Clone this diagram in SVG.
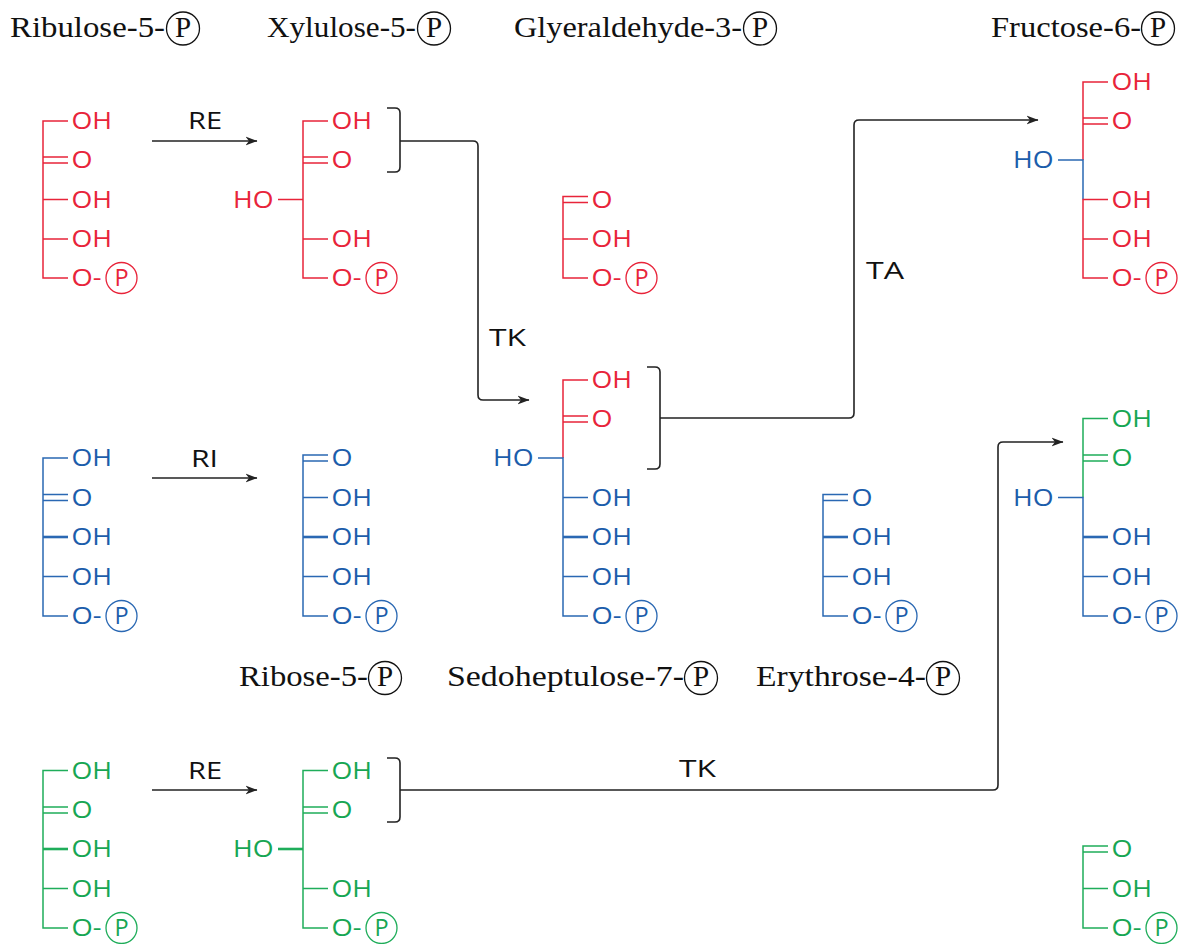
<svg xmlns="http://www.w3.org/2000/svg" width="1185" height="944" viewBox="0 0 1185 944">
<style>
.bg{fill:#fff}
.ln{fill:none;stroke-width:1.5}
.thk{stroke-width:2.6}
.sr{stroke:#e8243a}.sb{stroke:#2a68b3}.sg{stroke:#1fad5a}
.fr{fill:#e8243a}.fb{fill:#1c5dab}.fg{fill:#17a653}
.t{font-family:'Open Sans','Noto Sans',sans-serif;font-size:23.5px}
.cp{fill:none;stroke-width:1.3}
.ttl{font-family:'Liberation Serif','Times New Roman',serif;font-size:29px;fill:#111}
.tc{fill:none;stroke:#111;stroke-width:1.3}
.con{fill:none;stroke:#222;stroke-width:1.6}
.lab{font-family:'Open Sans','Noto Sans',sans-serif;font-size:23.5px;fill:#111}
</style>
<defs>
<marker id="ah" viewBox="0 0 12 10" refX="11.5" refY="5" markerWidth="12" markerHeight="10" markerUnits="userSpaceOnUse" orient="auto">
<path d="M0,0.6 L12,5 L0,9.4 L3.5,5 Z" fill="#222"/>
</marker>
</defs>
<rect class="bg" x="0" y="0" width="1185" height="944"/>

<g id="titles">
<text class="ttl" x="10" y="36.5" textLength="155" lengthAdjust="spacingAndGlyphs">Ribulose-5-</text>
<circle class="tc" cx="183" cy="28.5" r="16.5"/><text class="ttl" x="183" y="36.5" text-anchor="middle">P</text>
<text class="ttl" x="267" y="36.5" textLength="149" lengthAdjust="spacingAndGlyphs">Xylulose-5-</text>
<circle class="tc" cx="434" cy="28.5" r="16.5"/><text class="ttl" x="434" y="36.5" text-anchor="middle">P</text>
<text class="ttl" x="514" y="36.5" textLength="228" lengthAdjust="spacingAndGlyphs">Glyeraldehyde-3-</text>
<circle class="tc" cx="760" cy="28.5" r="16.5"/><text class="ttl" x="760" y="36.5" text-anchor="middle">P</text>
<text class="ttl" x="991" y="36.5" textLength="150" lengthAdjust="spacingAndGlyphs">Fructose-6-</text>
<circle class="tc" cx="1158" cy="28.5" r="16.5"/><text class="ttl" x="1158" y="36.5" text-anchor="middle">P</text>
<text class="ttl" x="239" y="686" textLength="129" lengthAdjust="spacingAndGlyphs">Ribose-5-</text>
<circle class="tc" cx="385" cy="678" r="16.5"/><text class="ttl" x="385" y="686" text-anchor="middle">P</text>
<text class="ttl" x="447" y="686" textLength="237" lengthAdjust="spacingAndGlyphs">Sedoheptulose-7-</text>
<circle class="tc" cx="701" cy="678" r="16.5"/><text class="ttl" x="701" y="686" text-anchor="middle">P</text>
<text class="ttl" x="756" y="686" textLength="170" lengthAdjust="spacingAndGlyphs">Erythrose-4-</text>
<circle class="tc" cx="943" cy="678" r="16.5"/><text class="ttl" x="943" y="686" text-anchor="middle">P</text>
</g>

<!-- Ribulose-5-P top (red) -->
<g id="ribulose-top" transform="translate(43,0)">
<path class="ln sr" d="M25,121 H0 V278 H25 M0,157 H25 M0,163 H25 M0,199.5 H25 M0,239 H25"/>
<text class="t fr" x="28.5" y="129.4" textLength="40.5" lengthAdjust="spacingAndGlyphs">OH</text>
<text class="t fr" x="28.5" y="168.4" textLength="21" lengthAdjust="spacingAndGlyphs">O</text>
<text class="t fr" x="28.5" y="207.9" textLength="40.5" lengthAdjust="spacingAndGlyphs">OH</text>
<text class="t fr" x="28.5" y="247.4" textLength="40.5" lengthAdjust="spacingAndGlyphs">OH</text>
<text class="t fr" x="28.5" y="286.4" textLength="30" lengthAdjust="spacingAndGlyphs">O-</text>
<circle class="cp sr" cx="78.5" cy="278" r="15.5"/><text class="t fr" x="78.5" y="286.4" text-anchor="middle">P</text>
</g>

<!-- Xylulose-5-P top (red) -->
<g id="xylulose-top" transform="translate(303,0)">
<path class="ln sr" d="M25,121 H0 V278 H25 M0,157 H25 M0,163 H25 M-25,199.5 H0 M0,239 H25"/>
<text class="t fr" x="28.5" y="129.4" textLength="40.5" lengthAdjust="spacingAndGlyphs">OH</text>
<text class="t fr" x="28.5" y="168.4" textLength="21" lengthAdjust="spacingAndGlyphs">O</text>
<text class="t fr" x="-29.5" y="207.9" text-anchor="end" textLength="40.5" lengthAdjust="spacingAndGlyphs">HO</text>
<text class="t fr" x="28.5" y="247.4" textLength="40.5" lengthAdjust="spacingAndGlyphs">OH</text>
<text class="t fr" x="28.5" y="286.4" textLength="30" lengthAdjust="spacingAndGlyphs">O-</text>
<circle class="cp sr" cx="78.5" cy="278" r="15.5"/><text class="t fr" x="78.5" y="286.4" text-anchor="middle">P</text>
</g>

<!-- Glyceraldehyde-3-P top (red) -->
<g id="gap-top" transform="translate(563,0)">
<path class="ln sr" d="M25,196.5 H0 V278 H25 M0,202.5 H25 M0,239 H25"/>
<text class="t fr" x="28.5" y="207.9" textLength="21" lengthAdjust="spacingAndGlyphs">O</text>
<text class="t fr" x="28.5" y="247.4" textLength="40.5" lengthAdjust="spacingAndGlyphs">OH</text>
<text class="t fr" x="28.5" y="286.4" textLength="30" lengthAdjust="spacingAndGlyphs">O-</text>
<circle class="cp sr" cx="78.5" cy="278" r="15.5"/><text class="t fr" x="78.5" y="286.4" text-anchor="middle">P</text>
</g>

<!-- Fructose-6-P top (red/blue) -->
<g id="f6p-top" transform="translate(1083,0)">
<path class="ln sr" d="M25,82 H0 V160 M0,118 H25 M0,124 H25"/>
<path class="ln sb" d="M-25,160 H0 V199.5"/>
<path class="ln sr" d="M25,199.5 H0 V278 H25 M0,239 H25"/>
<text class="t fr" x="28.5" y="90.4" textLength="40.5" lengthAdjust="spacingAndGlyphs">OH</text>
<text class="t fr" x="28.5" y="129.4" textLength="21" lengthAdjust="spacingAndGlyphs">O</text>
<text class="t fb" x="-29.5" y="168.4" text-anchor="end" textLength="40.5" lengthAdjust="spacingAndGlyphs">HO</text>
<text class="t fr" x="28.5" y="207.9" textLength="40.5" lengthAdjust="spacingAndGlyphs">OH</text>
<text class="t fr" x="28.5" y="247.4" textLength="40.5" lengthAdjust="spacingAndGlyphs">OH</text>
<text class="t fr" x="28.5" y="286.4" textLength="30" lengthAdjust="spacingAndGlyphs">O-</text>
<circle class="cp sr" cx="78.5" cy="278" r="15.5"/><text class="t fr" x="78.5" y="286.4" text-anchor="middle">P</text>
</g>

<!-- Ribulose-5-P middle (blue) -->
<g id="ribulose-mid" transform="translate(43,0)">
<path class="ln sb" d="M25,458 H0 V616 H25 M0,494.5 H25 M0,500.5 H25 M0,576.5 H25"/>
<path class="ln sb thk" d="M0,537 H25"/>
<text class="t fb" x="28.5" y="466.4" textLength="40.5" lengthAdjust="spacingAndGlyphs">OH</text>
<text class="t fb" x="28.5" y="505.9" textLength="21" lengthAdjust="spacingAndGlyphs">O</text>
<text class="t fb" x="28.5" y="545.4" textLength="40.5" lengthAdjust="spacingAndGlyphs">OH</text>
<text class="t fb" x="28.5" y="584.9" textLength="40.5" lengthAdjust="spacingAndGlyphs">OH</text>
<text class="t fb" x="28.5" y="624.4" textLength="30" lengthAdjust="spacingAndGlyphs">O-</text>
<circle class="cp sb" cx="78.5" cy="616" r="15.5"/><text class="t fb" x="78.5" y="624.4" text-anchor="middle">P</text>
</g>

<!-- Ribose-5-P (blue) -->
<g id="ribose" transform="translate(303,0)">
<path class="ln sb" d="M25,455 H0 V616 H25 M0,461 H25 M0,497.5 H25 M0,576.5 H25"/>
<path class="ln sb thk" d="M0,537 H25"/>
<text class="t fb" x="28.5" y="466.4" textLength="21" lengthAdjust="spacingAndGlyphs">O</text>
<text class="t fb" x="28.5" y="505.9" textLength="40.5" lengthAdjust="spacingAndGlyphs">OH</text>
<text class="t fb" x="28.5" y="545.4" textLength="40.5" lengthAdjust="spacingAndGlyphs">OH</text>
<text class="t fb" x="28.5" y="584.9" textLength="40.5" lengthAdjust="spacingAndGlyphs">OH</text>
<text class="t fb" x="28.5" y="624.4" textLength="30" lengthAdjust="spacingAndGlyphs">O-</text>
<circle class="cp sb" cx="78.5" cy="616" r="15.5"/><text class="t fb" x="78.5" y="624.4" text-anchor="middle">P</text>
</g>

<!-- Sedoheptulose-7-P (red/blue) -->
<g id="sedoheptulose" transform="translate(563,0)">
<path class="ln sr" d="M25,380 H0 V458 M0,416 H25 M0,422 H25"/>
<path class="ln sb" d="M-25,458 H0 V616 H25 M0,497.5 H25 M0,576.5 H25"/>
<path class="ln sb thk" d="M0,537 H25"/>
<text class="t fr" x="28.5" y="388.4" textLength="40.5" lengthAdjust="spacingAndGlyphs">OH</text>
<text class="t fr" x="28.5" y="427.4" textLength="21" lengthAdjust="spacingAndGlyphs">O</text>
<text class="t fb" x="-29.5" y="466.4" text-anchor="end" textLength="40.5" lengthAdjust="spacingAndGlyphs">HO</text>
<text class="t fb" x="28.5" y="505.9" textLength="40.5" lengthAdjust="spacingAndGlyphs">OH</text>
<text class="t fb" x="28.5" y="545.4" textLength="40.5" lengthAdjust="spacingAndGlyphs">OH</text>
<text class="t fb" x="28.5" y="584.9" textLength="40.5" lengthAdjust="spacingAndGlyphs">OH</text>
<text class="t fb" x="28.5" y="624.4" textLength="30" lengthAdjust="spacingAndGlyphs">O-</text>
<circle class="cp sb" cx="78.5" cy="616" r="15.5"/><text class="t fb" x="78.5" y="624.4" text-anchor="middle">P</text>
</g>

<!-- Erythrose-4-P (blue) -->
<g id="erythrose" transform="translate(823,0)">
<path class="ln sb" d="M25,494.5 H0 V616 H25 M0,500.5 H25 M0,576.5 H25"/>
<path class="ln sb thk" d="M0,537 H25"/>
<text class="t fb" x="28.5" y="505.9" textLength="21" lengthAdjust="spacingAndGlyphs">O</text>
<text class="t fb" x="28.5" y="545.4" textLength="40.5" lengthAdjust="spacingAndGlyphs">OH</text>
<text class="t fb" x="28.5" y="584.9" textLength="40.5" lengthAdjust="spacingAndGlyphs">OH</text>
<text class="t fb" x="28.5" y="624.4" textLength="30" lengthAdjust="spacingAndGlyphs">O-</text>
<circle class="cp sb" cx="78.5" cy="616" r="15.5"/><text class="t fb" x="78.5" y="624.4" text-anchor="middle">P</text>
</g>

<!-- Fructose-6-P middle (green/blue) -->
<g id="f6p-mid" transform="translate(1083,0)">
<path class="ln sg" d="M25,418.5 H0 V497.5 M0,455 H25 M0,461 H25"/>
<path class="ln sb" d="M-25,497.5 H0 V616 H25 M0,576.5 H25"/>
<path class="ln sb thk" d="M0,537 H25"/>
<text class="t fg" x="28.5" y="426.9" textLength="40.5" lengthAdjust="spacingAndGlyphs">OH</text>
<text class="t fg" x="28.5" y="466.4" textLength="21" lengthAdjust="spacingAndGlyphs">O</text>
<text class="t fb" x="-29.5" y="505.9" text-anchor="end" textLength="40.5" lengthAdjust="spacingAndGlyphs">HO</text>
<text class="t fb" x="28.5" y="545.4" textLength="40.5" lengthAdjust="spacingAndGlyphs">OH</text>
<text class="t fb" x="28.5" y="584.9" textLength="40.5" lengthAdjust="spacingAndGlyphs">OH</text>
<text class="t fb" x="28.5" y="624.4" textLength="30" lengthAdjust="spacingAndGlyphs">O-</text>
<circle class="cp sb" cx="78.5" cy="616" r="15.5"/><text class="t fb" x="78.5" y="624.4" text-anchor="middle">P</text>
</g>

<!-- Ribulose-5-P bottom (green) -->
<g id="ribulose-bottom" transform="translate(43,0)">
<path class="ln sg" d="M25,770.5 H0 V928 H25 M0,807 H25 M0,813 H25 M0,888.5 H25"/>
<path class="ln sg thk" d="M0,849 H25"/>
<text class="t fg" x="28.5" y="778.9" textLength="40.5" lengthAdjust="spacingAndGlyphs">OH</text>
<text class="t fg" x="28.5" y="818.4" textLength="21" lengthAdjust="spacingAndGlyphs">O</text>
<text class="t fg" x="28.5" y="857.4" textLength="40.5" lengthAdjust="spacingAndGlyphs">OH</text>
<text class="t fg" x="28.5" y="896.9" textLength="40.5" lengthAdjust="spacingAndGlyphs">OH</text>
<text class="t fg" x="28.5" y="936.4" textLength="30" lengthAdjust="spacingAndGlyphs">O-</text>
<circle class="cp sg" cx="78.5" cy="928" r="15.5"/><text class="t fg" x="78.5" y="936.4" text-anchor="middle">P</text>
</g>

<!-- Xylulose-5-P bottom (green) -->
<g id="xylulose-bottom" transform="translate(303,0)">
<path class="ln sg" d="M25,770.5 H0 V928 H25 M0,807 H25 M0,813 H25 M0,888.5 H25"/>
<path class="ln sg thk" d="M-25,849 H0"/>
<text class="t fg" x="28.5" y="778.9" textLength="40.5" lengthAdjust="spacingAndGlyphs">OH</text>
<text class="t fg" x="28.5" y="818.4" textLength="21" lengthAdjust="spacingAndGlyphs">O</text>
<text class="t fg" x="-29.5" y="857.4" text-anchor="end" textLength="40.5" lengthAdjust="spacingAndGlyphs">HO</text>
<text class="t fg" x="28.5" y="896.9" textLength="40.5" lengthAdjust="spacingAndGlyphs">OH</text>
<text class="t fg" x="28.5" y="936.4" textLength="30" lengthAdjust="spacingAndGlyphs">O-</text>
<circle class="cp sg" cx="78.5" cy="928" r="15.5"/><text class="t fg" x="78.5" y="936.4" text-anchor="middle">P</text>
</g>

<!-- Glyceraldehyde-3-P bottom (green) -->
<g id="gap-bottom" transform="translate(1083,0)">
<path class="ln sg" d="M25,846 H0 V928 H25 M0,852 H25 M0,888.5 H25"/>
<text class="t fg" x="28.5" y="857.4" textLength="21" lengthAdjust="spacingAndGlyphs">O</text>
<text class="t fg" x="28.5" y="896.9" textLength="40.5" lengthAdjust="spacingAndGlyphs">OH</text>
<text class="t fg" x="28.5" y="936.4" textLength="30" lengthAdjust="spacingAndGlyphs">O-</text>
<circle class="cp sg" cx="78.5" cy="928" r="15.5"/><text class="t fg" x="78.5" y="936.4" text-anchor="middle">P</text>
</g>

<g id="connectors">
<path class="con" d="M152,141 H257" marker-end="url(#ah)"/>
<path class="con" d="M152,478 H257" marker-end="url(#ah)"/>
<path class="con" d="M152,790 H257" marker-end="url(#ah)"/>
<path class="con" d="M387,108 H395 Q400,108 400,113 V167 Q400,172 395,172 H387"/>
<path class="con" d="M400,141 H473 Q478,141 478,146 V395 Q478,400 483,400 H529" marker-end="url(#ah)"/>
<path class="con" d="M647,367 H655 Q660,367 660,372 V464 Q660,469 655,469 H647"/>
<path class="con" d="M660,418 H849 Q854,418 854,413 V125 Q854,120 859,120 H1038" marker-end="url(#ah)"/>
<path class="con" d="M387,758 H395 Q400,758 400,763 V817 Q400,822 395,822 H387"/>
<path class="con" d="M400,790 H993 Q998,790 998,785 V447 Q998,442 1003,442 H1063" marker-end="url(#ah)"/>
<text class="lab" x="188" y="128.5" textLength="34" lengthAdjust="spacingAndGlyphs">RE</text>
<text class="lab" x="191" y="466.5" textLength="27" lengthAdjust="spacingAndGlyphs">RI</text>
<text class="lab" x="188" y="778.5" textLength="34" lengthAdjust="spacingAndGlyphs">RE</text>
<text class="lab" x="489" y="345.5" textLength="37" lengthAdjust="spacingAndGlyphs">TK</text>
<text class="lab" x="866" y="278.5" textLength="38" lengthAdjust="spacingAndGlyphs">TA</text>
<text class="lab" x="679" y="777" textLength="37" lengthAdjust="spacingAndGlyphs">TK</text>
</g>
</svg>
